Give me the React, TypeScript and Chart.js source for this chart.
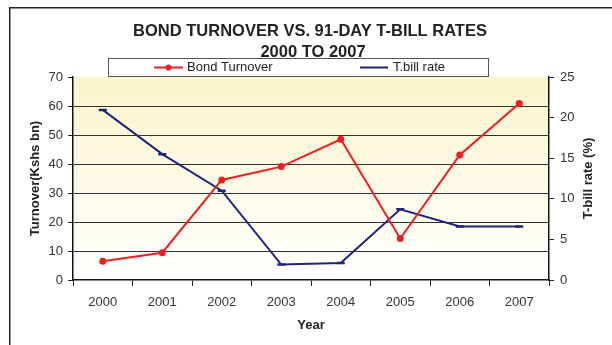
import React, { useEffect, useRef } from "react";
import { Chart, registerables } from "chart.js";

Chart.register(...registerables);

const TITLE_LINES = ["BOND TURNOVER VS. 91-DAY T-BILL RATES", "2000 TO 2007"];
const YEARS = ["2000", "2001", "2002", "2003", "2004", "2005", "2006", "2007"];
const BOND_TURNOVER = [6.5, 9.4, 34.5, 39.1, 48.5, 14.3, 43.1, 60.9];
const TBILL_RATE = [20.95, 15.5, 11.0, 1.9, 2.1, 8.7, 6.6, 6.6];
const BOND_LABEL = "Bond Turnover";
const TBILL_LABEL = "T.bill rate";
const X_TITLE = "Year";
const Y_LEFT_TITLE = "Turnover(Kshs bn)";
const Y_RIGHT_TITLE = "T-bill rate (%)";

const RED = "#EE1D23";
const NAVY = "#1F237A";
const FONT = "Arial, 'Liberation Sans', sans-serif";

const decorPlugin = {
  id: "decor",
  beforeDraw(chart: any) {
    const { ctx, chartArea } = chart;
    ctx.save();
    ctx.fillStyle = "#ffffff";
    ctx.fillRect(0, 0, chart.width, chart.height);
    // outer frame
    ctx.strokeStyle = "#222";
    ctx.lineWidth = 1.5;
    ctx.beginPath();
    ctx.moveTo(9.75, chart.height + 2);
    ctx.lineTo(9.75, 7.75);
    ctx.lineTo(chart.width + 2, 7.75);
    ctx.stroke();
    // plot background gradient
    const g = ctx.createLinearGradient(0, chartArea.top, 0, chartArea.bottom);
    g.addColorStop(0, "#FAF5CB");
    g.addColorStop(1, "#FFFFFF");
    ctx.fillStyle = g;
    ctx.fillRect(chartArea.left, chartArea.top, chartArea.right - chartArea.left, chartArea.bottom - chartArea.top);
    ctx.restore();
  },
  afterDraw(chart: any) {
    const { ctx, chartArea } = chart;
    ctx.save();
    // title
    ctx.fillStyle = "#222";
    ctx.font = `bold 16.5px ${FONT}`;
    ctx.textAlign = "center";
    ctx.textBaseline = "middle";
    ctx.fillText(TITLE_LINES[0], 310, 31);
    ctx.fillText(TITLE_LINES[1], 313, 52);
    // legend box
    ctx.fillStyle = "#ffffff";
    ctx.fillRect(108.5, 58.5, 380, 18);
    ctx.strokeStyle = "#555";
    ctx.lineWidth = 1;
    ctx.strokeRect(108.5, 58.5, 380, 18);
    const ly = 67.5;
    // bond item
    ctx.strokeStyle = RED;
    ctx.lineWidth = 2;
    ctx.beginPath();
    ctx.moveTo(154, ly);
    ctx.lineTo(183, ly);
    ctx.stroke();
    ctx.fillStyle = RED;
    ctx.beginPath();
    ctx.arc(168.5, ly, 3, 0, Math.PI * 2);
    ctx.fill();
    // tbill item
    ctx.strokeStyle = NAVY;
    ctx.beginPath();
    ctx.moveTo(360, ly);
    ctx.lineTo(388, ly);
    ctx.stroke();
    ctx.fillStyle = "#222";
    ctx.font = `13px ${FONT}`;
    ctx.textAlign = "left";
    ctx.textBaseline = "middle";
    ctx.fillText(chart.data.datasets[0].label, 187, ly);
    ctx.fillText(chart.data.datasets[1].label, 393, ly);
    // right axis title
    ctx.font = `bold 13px ${FONT}`;
    ctx.textAlign = "center";
    ctx.translate(588, (chartArea.top + chartArea.bottom) / 2);
    ctx.rotate(-Math.PI / 2);
    ctx.fillText(Y_RIGHT_TITLE, 0, 0);
    ctx.restore();
  },
};

export default function App() {
  const ref = useRef<HTMLCanvasElement | null>(null);
  useEffect(() => {
    if (!ref.current) return;
    const chart = new Chart(ref.current, {
      type: "line",
      data: {
        labels: YEARS,
        datasets: [
          {
            label: BOND_LABEL,
            data: BOND_TURNOVER,
            yAxisID: "y",
            borderColor: RED,
            backgroundColor: RED,
            borderWidth: 2,
            pointRadius: 3.5,
            pointBorderWidth: 0,
            tension: 0,
          },
          {
            label: TBILL_LABEL,
            data: TBILL_RATE,
            yAxisID: "y1",
            borderColor: NAVY,
            backgroundColor: NAVY,
            borderWidth: 2,
            pointStyle: "line",
            pointRadius: 4,
            pointBorderWidth: 2.5,
            tension: 0,
          },
        ],
      },
      options: {
        responsive: false,
        animation: false,
        layout: { padding: { top: 77, left: 0, right: 0, bottom: 0 } },
        plugins: {
          legend: { display: false },
          title: { display: false },
          tooltip: { enabled: false },
        },
        scales: {
          x: {
            offset: true,
            afterFit(scale: any) { scale.height = 65; },
            grid: { offset: true, drawOnChartArea: false, tickLength: 6, color: "#222", tickColor: "#222" },
            border: { color: "#111", width: 1.5 },
            ticks: { color: "#333", font: { family: FONT, size: 13 }, padding: 9 },
            title: { display: true, text: X_TITLE, color: "#222", font: { family: FONT, size: 13, weight: "bold" }, padding: { top: 0, bottom: 12 } },
          },
          y: {
            position: "left",
            min: 0,
            max: 70,
            afterFit(scale: any) { scale.width = 73; },
            ticks: { stepSize: 10, color: "#333", font: { family: FONT, size: 13 }, padding: 5 },
            grid: {
              tickLength: 5,
              color: (c: any) => (c.tick && (c.tick.value === 70 || c.tick.value === 0) ? "rgba(0,0,0,0)" : "#333"),
              tickColor: "#222",
            },
            border: { color: "#111", width: 1.5 },
            title: { display: true, text: Y_LEFT_TITLE, color: "#222", font: { family: FONT, size: 13, weight: "bold" }, padding: { top: 28, bottom: 0 } },
          },
          y1: {
            position: "right",
            min: 0,
            max: 25,
            afterFit(scale: any) { scale.width = 63; },
            ticks: { stepSize: 5, color: "#333", font: { family: FONT, size: 13 }, padding: 6 },
            grid: { drawOnChartArea: false, tickLength: 5, color: "#222", tickColor: "#222" },
            border: { color: "#111", width: 1.5 },
          },
        },
      },
      plugins: [decorPlugin],
    });
    return () => chart.destroy();
  }, []);
  return (
    <div style={{ position: "absolute", left: 0, top: 0, width: 612, height: 345 }}>
      <canvas ref={ref} width={612} height={345} style={{ display: "block" }} />
    </div>
  );
}
